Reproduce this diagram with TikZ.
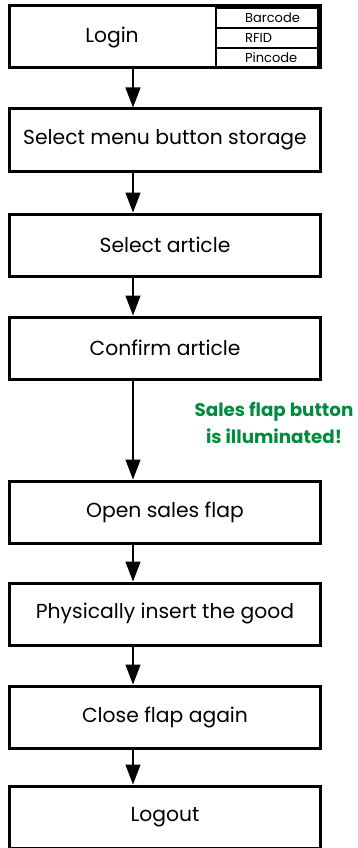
\documentclass[tikz,border=0pt]{standalone}
\usepackage{fontspec}
\setmainfont{Poppins}
\usetikzlibrary{arrows.meta,positioning}
\definecolor{flapgreen}{RGB}{0,140,60}

\begin{document}
\begin{tikzpicture}
[x=1pt,y=-1pt,
stepbox/.style={shape=rectangle,draw=black,line width=3pt,minimum width=311pt,minimum height=62pt,inner sep=0pt,font=\fontsize{20.3}{22}\selectfont},
subbox/.style={shape=rectangle,draw=black,line width=1.2pt,minimum width=102pt,minimum height=20pt,inner sep=0pt,outer sep=0pt},
subtext/.style={anchor=west,inner sep=0pt,font=\fontsize{13}{14}\selectfont},
myedge/.style={line width=1.3pt,-{Triangle[length=20pt,width=15pt]}}]
\useasboundingbox (0,0) rectangle (357,848);
%%
\node (login) [stepbox] at (165,37) {};
\node (bar) [subbox] at (267,18) {};
\node (rfid) [subbox] at (267,38) {};
\node (pin) [subbox] at (267,58) {};
\node (bartxt) [subtext] at (245,18) {Barcode};
\node (rfidtxt) [subtext] at (245,38) {RFID};
\node (pintxt) [subtext] at (245,58) {Pincode};
\node (logintxt) [font=\fontsize{20.3}{22}\selectfont] at (112,38) {Login};
%%
\node (menu) [stepbox] at (165,140) {Select menu button storage};
\node (article) [stepbox] at (165,245) {Select article};
\node (confirm) [stepbox] at (165,348) {Confirm article};
\node (open) [stepbox] at (165,512) {Open sales flap};
\node (insert) [stepbox] at (165,614) {Physically insert the good};
\node (close) [stepbox] at (165,717) {Close flap again};
\node (logout) [stepbox] at (165,817) {Logout};
%%
\node (hint) [text=flapgreen,align=center,font=\fontsize{18.3}{27}\selectfont\bfseries] at (274,423) {Sales flap button\\is illuminated!};
%%
\draw[myedge] (login.south -| 133,0) -- (menu.north -| 133,0);
\draw[myedge] (menu.south -| 133,0) -- (article.north -| 133,0);
\draw[myedge] (article.south -| 133,0) -- (confirm.north -| 133,0);
\draw[myedge] (confirm.south -| 133,0) -- (open.north -| 133,0);
\draw[myedge] (open.south -| 133,0) -- (insert.north -| 133,0);
\draw[myedge] (insert.south -| 133,0) -- (close.north -| 133,0);
\draw[myedge] (close.south -| 133,0) -- (logout.north -| 133,0);
\end{tikzpicture}
\end{document}
